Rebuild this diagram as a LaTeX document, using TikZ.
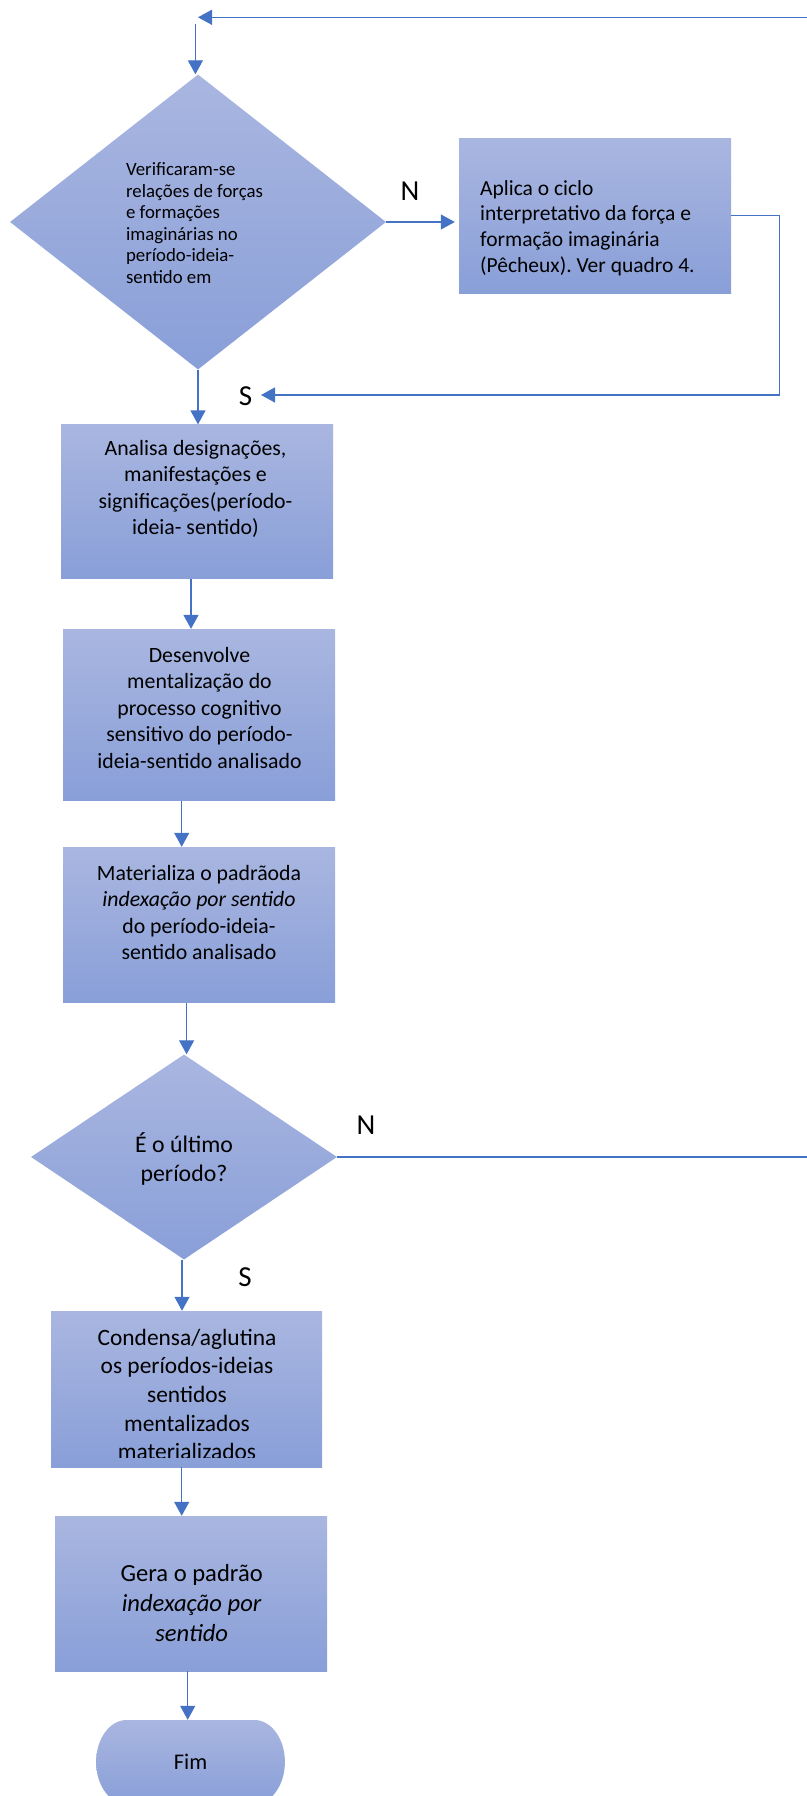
\documentclass[tikz,border=0pt]{standalone}
\usepackage{fontspec}
\setmainfont{Carlito}
\usetikzlibrary{shapes.geometric,arrows.meta}
\frenchspacing

\definecolor{flowline}{RGB}{68,114,196}
\definecolor{fillTop}{RGB}{169,182,224}
\definecolor{fillBot}{RGB}{137,159,216}

\tikzset{
  stepbox/.style={rectangle, inner sep=0pt, draw=none, top color=fillTop, bottom color=fillBot},
  decision/.style={diamond, inner sep=0pt, draw=none, top color=fillTop, bottom color=fillBot},
  flow/.style={draw=flowline, line width=1.3pt},
  arr/.style={flow, -{Triangle[width=15pt,length=14pt]}},
  txt/.style={inner sep=0pt, text=black},
  yesno/.style={txt, font=\fontsize{29}{32}\selectfont},
}

\begin{document}
\begin{tikzpicture}[x=1pt, y=-1pt]
  \useasboundingbox (0,0) rectangle (806,1796);

  % ---- shapes ----
  \node[decision, minimum width=376pt, minimum height=295pt] (d1) at (198,222) {};
  \node[stepbox, minimum width=272pt, minimum height=155pt] (aplica) at (595,215.5) {};
  \node[stepbox, minimum width=272pt, minimum height=154pt] (ana) at (197,501.6) {};
  \node[stepbox, minimum width=272pt, minimum height=171.5pt] (des) at (199,714.8) {};
  \node[stepbox, minimum width=272pt, minimum height=155.6pt] (mat) at (199,924.8) {};
  \node[decision, minimum width=306pt, minimum height=205pt] (d2) at (184,1157) {};
  \node[stepbox, minimum width=271pt, minimum height=156pt] (cond) at (186.5,1389) {};
  \node[stepbox, minimum width=272pt, minimum height=155pt] (gera) at (191,1593.5) {};

  % terminator: flat top and bottom, half-elliptic ends
  \path[top color=fillTop, bottom color=fillBot]
    (126.5,1720) -- (254.5,1720)
    arc[start angle=90, end angle=-90, x radius=30.4pt, y radius=42pt]
    -- (126.5,1804)
    arc[start angle=270, end angle=90, x radius=30.4pt, y radius=42pt] -- cycle;
  \node[txt, minimum width=189pt, minimum height=84pt, font=\fontsize{22.4}{27}\selectfont] (fim) at (190.5,1762) {Fim};

  % ---- texts ----
  \node[txt, align=left, font=\fontsize{18.8}{21.5}\selectfont] (d1t) at (194.5,223)
    {Verificaram-se\\relações de forças\\e formações\\imaginárias no\\período-ideia-\\sentido em};
  \node[txt, anchor=west, align=left, font=\fontsize{21.5}{25.8}\selectfont] (aplicat) at (480,228)
    {Aplica o ciclo\\interpretativo da força e\\formação imaginária\\(Pêcheux). Ver quadro 4.};
  \node[txt, align=center, font=\fontsize{21.8}{26.5}\selectfont] (anat) at (195.5,489)
    {Analisa designações,\\manifestações e\\significações(período-\\ideia- sentido)};
  \node[txt, align=center, font=\fontsize{21.8}{26.5}\selectfont] (dest) at (199.5,708)
    {Desenvolve\\mentalização do\\processo cognitivo\\sensitivo do período-\\ideia-sentido analisado};
  \node[txt, align=center, font=\fontsize{21.8}{26.5}\selectfont] (matt) at (199,912.4)
    {Materializa o padrãoda\\\textit{indexação por sentido}\\do período-ideia-\\sentido analisado};
  \node[txt, align=center, font=\fontsize{23.8}{29}\selectfont] (d2t) at (184,1158.7)
    {É o último\\período?};
  \begin{scope}
    \clip (51,1311) rectangle (322,1457);
    \node[txt, align=center, font=\fontsize{23.4}{28.6}\selectfont] (condt) at (187,1394.5)
      {Condensa/aglutina\\os períodos-ideias\\sentidos\\mentalizados\\materializados};
  \end{scope}
  \node[txt, align=center, font=\fontsize{24.6}{30}\selectfont] (gerat) at (191.7,1603.3)
    {Gera o padrão\\\textit{indexação por}\\\textit{sentido}};

  % ---- branch labels ----
  \node[yesno] (n1) at (410,191) {N};
  \node[yesno] (s1) at (245.5,396) {S};
  \node[yesno] (n2) at (366,1125) {N};
  \node[yesno] (s2) at (245,1277) {S};

  % ---- connectors ----
  \coordinate (loopHigh) at (830,17.3);
  \coordinate (loopTip) at (198,17.3);
  \coordinate (loopStart) at (195.4,24);
  \coordinate (sTip) at (261,395);

  \draw[arr] (d2.east) -- (d2.east -| loopHigh) -- (loopHigh) -- (loopTip);
  \draw[arr] (loopStart) -- (loopStart |- d1.north);
  \draw[arr, shorten >=4pt] (d1.east) -- (d1.east -| aplica.west);
  \draw[arr] (aplica.east) -- ++(48,0) |- (sTip);
  \draw[arr] (d1.south) -- (d1.south |- ana.north);
  \draw[arr] ([xshift=-6pt]ana.south) -- ([xshift=-6pt]ana.south |- des.north);
  \draw[arr] ([xshift=-17.3pt]des.south) -- ([xshift=-17.3pt]des.south |- mat.north);
  \draw[arr] ([xshift=-12.4pt]mat.south) -- ([xshift=-12.4pt]mat.south |- d2.north);
  \draw[arr] ([xshift=-2pt]d2.south) -- ([xshift=-2pt]d2.south |- cond.north);
  \draw[arr] ([xshift=-4.8pt]cond.south) -- ([xshift=-4.8pt]cond.south |- gera.north);
  \draw[arr] ([xshift=-3.3pt]gera.south) -- ([xshift=-3.3pt]gera.south |- fim.north);
\end{tikzpicture}
\end{document}
